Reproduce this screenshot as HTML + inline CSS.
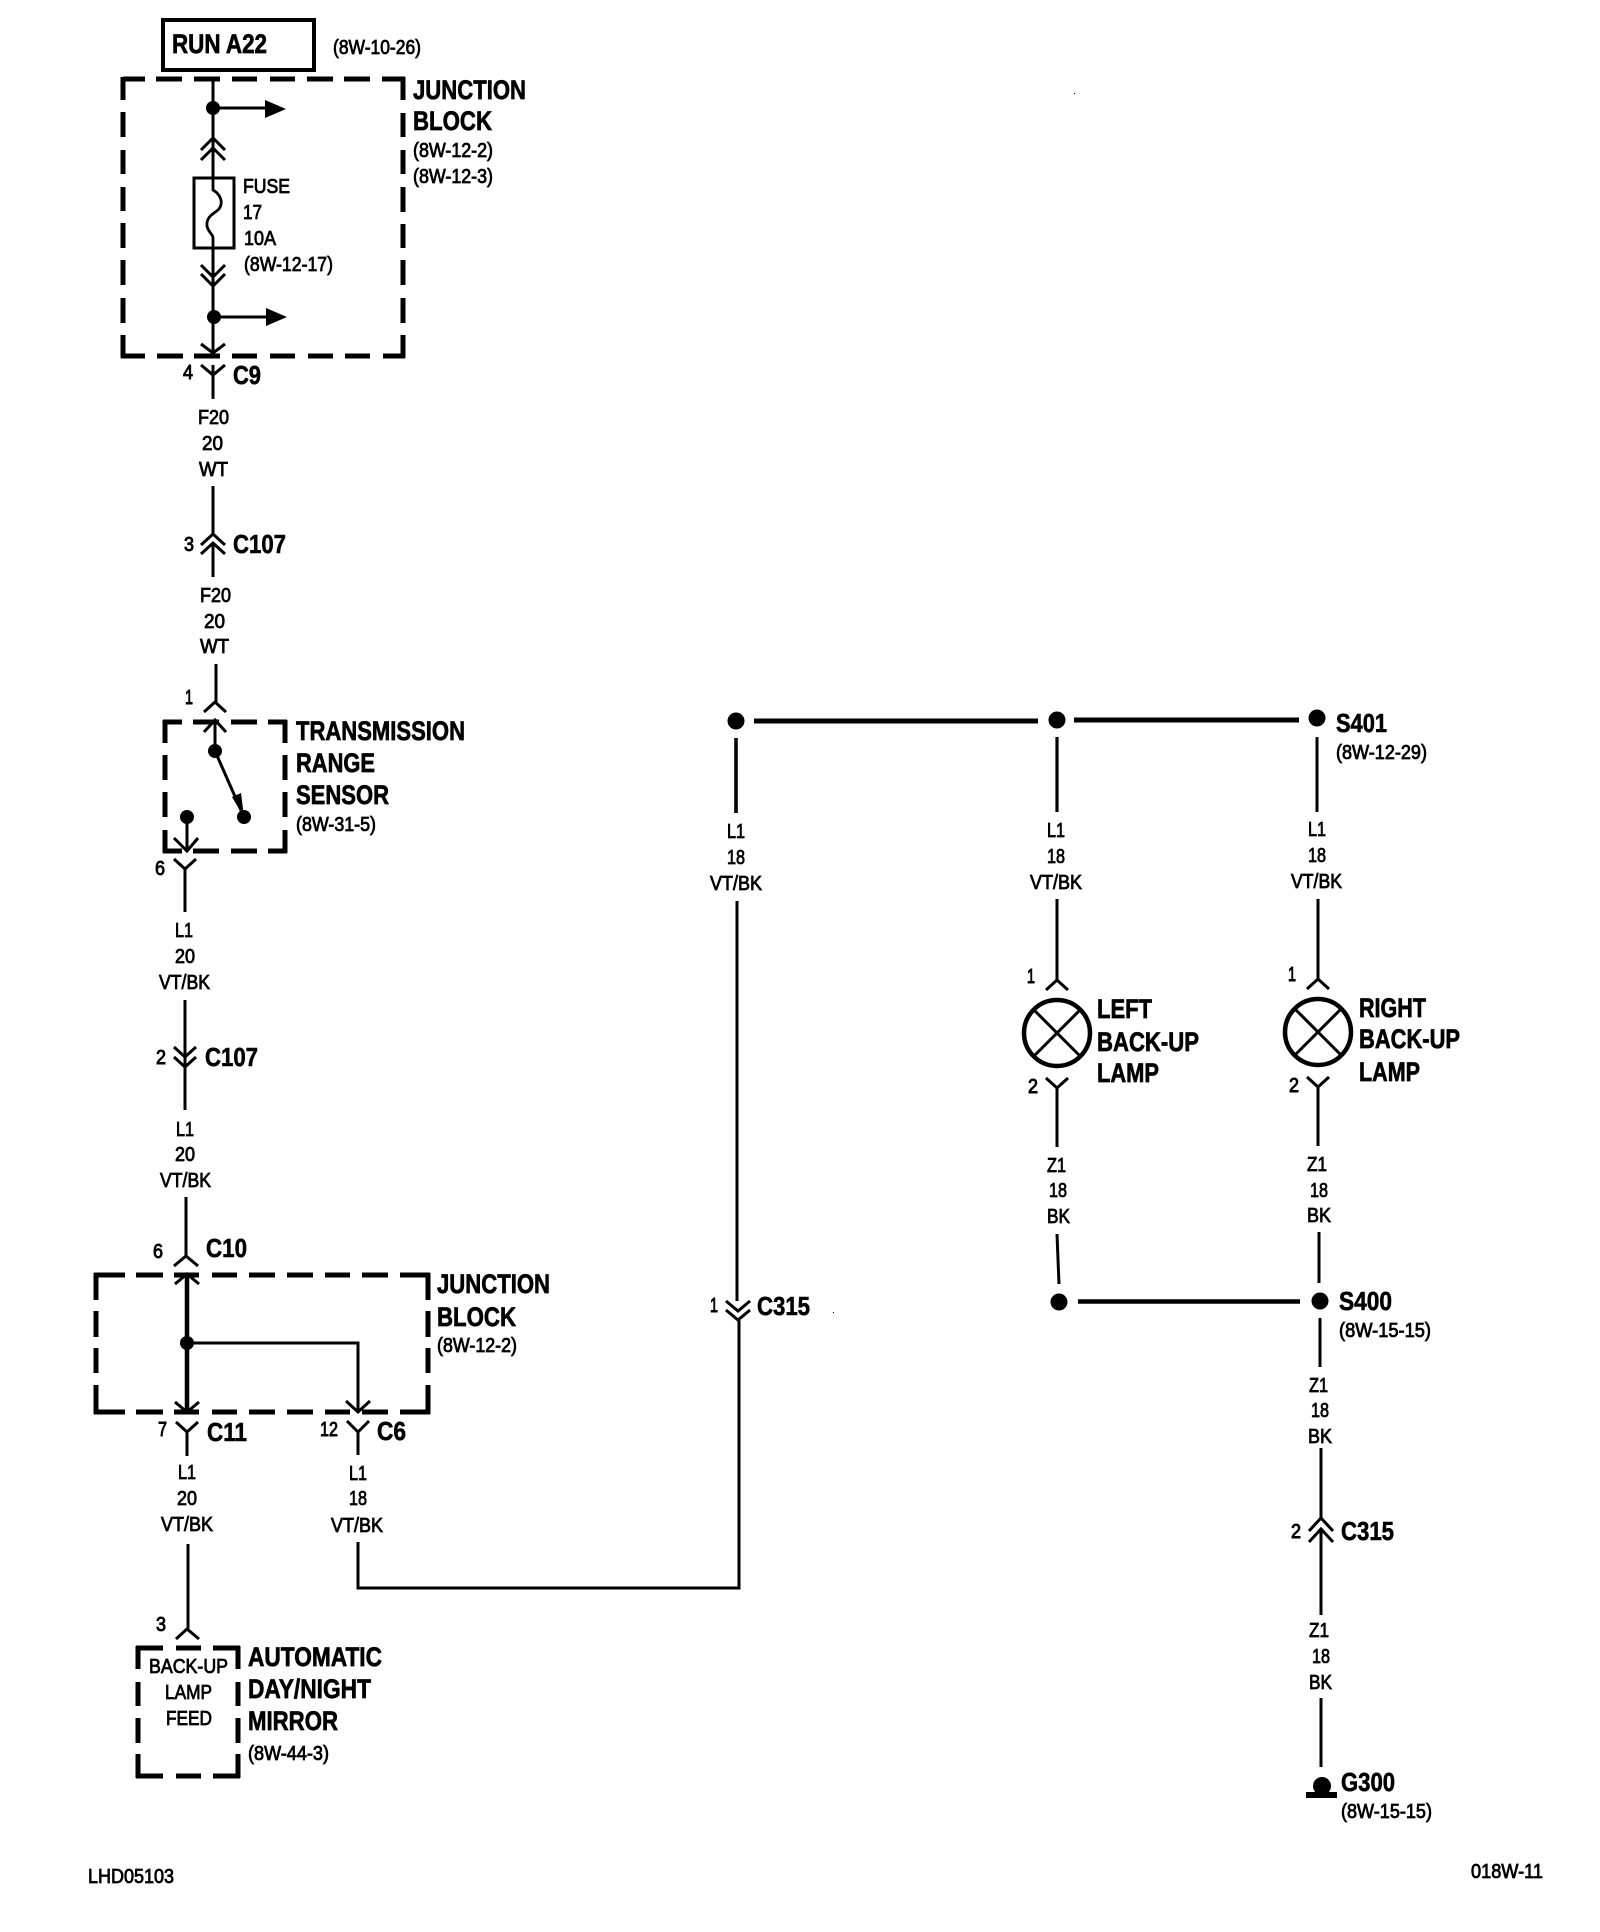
<!DOCTYPE html>
<html>
<head>
<meta charset="utf-8">
<title>Back-up lamp wiring diagram</title>
<style>
html,body{margin:0;padding:0;background:#fff}
svg{display:block}
text{font-family:"Liberation Sans",sans-serif;fill:#000;stroke:#000}
.h{font-weight:bold;font-size:27px;stroke-width:.7px}
.c{font-weight:bold;font-size:26px;stroke-width:.6px}
.s{font-size:20px;stroke-width:.8px}
.p{font-size:20px;stroke-width:.9px}
</style>
</head>
<body>
<svg width="1600" height="1932" viewBox="0 0 1600 1932" xmlns="http://www.w3.org/2000/svg">
<rect width="1600" height="1932" fill="#fff" stroke="none"/>

<!-- RUN box -->
<rect x="163" y="20" width="151" height="50" fill="none" stroke="#000" stroke-width="4"/>

<!-- Dashed boxes -->
<g fill="none" stroke="#000" stroke-width="5">
<path d="M123 79H145M156 79H182M194 79H220M232 79H257M270 79H295M307 79H333M344 79H370M382 79H405
M123 77V100M123 112V137M123 150V174M123 187V211M123 223V248M123 260V285M123 298V323M123 335V358
M403 77V100M403 113V137M403 150V174M403 187V212M403 224V248M403 260V285M403 298V323M403 335V358
M121 356H145M157 356H183M194 356H220M232 356H257M270 356H295M308 356H333M345 356H370M383 356H405"/>
<path d="M163 722H182M193 722H219M231 722H257M268 722H287
M165 720V743M165 755V780M165 792V817M165 830V853
M285 720V743M285 755V780M285 792V817M285 830V853
M163 851H182M193 851H219M231 851H257M268 851H287"/>
<path d="M94 1275H125M136 1275H163M174 1275H199M212 1275H237M249 1275H275M287 1275H313M325 1275H350M362 1275H388M400 1275H430
M96 1273V1300M96 1311V1337M96 1348V1373M96 1385V1414
M428 1273V1300M428 1311V1337M428 1348V1373M428 1385V1414
M94 1412H125M136 1412H163M174 1412H199M212 1412H237M249 1412H275M287 1412H313M325 1412H350M362 1412H388M400 1412H430"/>
<path d="M136 1648H163M176 1648H201M213 1648H240
M138 1646V1669M138 1682V1706M138 1718V1743M138 1754V1778
M238 1646V1669M238 1682V1706M238 1718V1743M238 1754V1778
M136 1776H163M176 1776H201M213 1776H240"/>
</g>

<!-- Wires -->
<g fill="none" stroke="#000" stroke-width="3">
<path d="M213 79V178M213 248V353"/>
<path d="M213 108H266M214 317H267"/>
<path d="M213 365V399M213 486V534M213 543V577M216 664V702"/>
<path d="M215 719V751"/>
<path d="M187 817V850M185 869V912"/>
<path d="M185 1000V1067V1110M186 1197V1256"/>
<path d="M187 1432V1456M188 1544V1629"/>
<path d="M358 1432V1455"/>
<path d="M187 1343H358V1412"/>
<path d="M358 1542V1588H739V1320"/>
<path d="M737 901V1301"/>
<path d="M1057 899V980M1057 1088V1147M1318 899V979M1318 1087V1146"/>
<path d="M1057 1234L1059 1284M1319 1232V1283M1320 1318V1367M1321 1448V1518M1321 1528V1615M1321 1698V1767"/>
<path d="M1057 737V812" stroke-width="3.2"/>
<path d="M736 738V813" stroke-width="3.6"/>
<path d="M1317 737V812" stroke-width="3"/>
<path d="M187 1274V1414" stroke-width="4.5"/>
<path d="M754 721H1038M1074 720H1299" stroke-width="5"/>
<path d="M1078 1301.500H1300" stroke-width="4.500"/>
<path d="M215 751L244 817" stroke-width="3"/>
</g>

<!-- Chevrons -->
<g fill="none" stroke="#000" stroke-width="3">
<path d="M201 150L213 138L225 150M201 160L213 148L225 160"/>
<path d="M201 265L213 277L225 265M201 274L213 286L225 274"/>
<path d="M201 344L213 353L225 344M201 365L213 375L225 365"/>
<path d="M201 545L213 534L225 545M201 554L213 543L225 554"/>
<path d="M204 712L215 702L226 712M204 732L215 720L226 732"/>
<path d="M174 838L187 851L198 838M174 859L185 869L196 859"/>
<path d="M174 1047L185 1057L196 1047M174 1057L185 1067L196 1057"/>
<path d="M174 1266L186 1256L198 1266M175 1284L187 1274L199 1284"/>
<path d="M175 1402L187 1412L199 1402M176 1422L187 1432L198 1422"/>
<path d="M346 1401L358 1412L370 1401M347 1421L358 1432L369 1421"/>
<path d="M176 1639L187 1629L199 1639"/>
<path d="M726 1301L738 1311L750 1301M726 1310L738 1320L750 1310"/>
<path d="M1046 990L1057 980L1068 990M1046 1078L1057 1088L1068 1078"/>
<path d="M1307 989L1318 979L1329 989M1307 1077L1318 1087L1329 1077"/>
<path d="M1309 1531L1321 1518L1333 1531M1309 1542L1321 1529L1333 1542"/>
</g>

<!-- Fuse -->
<rect x="194" y="178" width="40" height="70" fill="none" stroke="#000" stroke-width="3"/>
<path d="M213 178V190C220 194 224 202 219 209C214 214 206 216 207 226C208 232 213 234 213 238V248" fill="none" stroke="#000" stroke-width="2.800"/>

<!-- Dots and arrowheads -->
<g fill="#000" stroke="none">
<circle cx="213" cy="108" r="7"/>
<circle cx="214" cy="317" r="7"/>
<path d="M265 100L286 109L265 118Z"/>
<path d="M266 308L287 317L266 326Z"/>
<circle cx="215" cy="751" r="7"/>
<circle cx="244" cy="817" r="7"/>
<circle cx="187" cy="817" r="7"/>
<path d="M232 797L241 793L244 817Z"/>
<circle cx="187" cy="1343" r="7"/>
<circle cx="736" cy="721" r="8.500"/>
<circle cx="1057" cy="720" r="8.500"/>
<circle cx="1317" cy="718" r="8.500"/>
<circle cx="1059" cy="1302" r="8.500"/>
<circle cx="1320" cy="1301" r="8.500"/>
<circle cx="1322" cy="1786" r="9"/>
<rect x="1306" y="1792" width="31" height="6"/>
<rect x="1074" y="93" width="1" height="1"/>
<rect x="833" y="1312" width="1" height="1"/>
</g>

<!-- Lamps -->
<g fill="none" stroke="#000">
<circle cx="1057" cy="1033" r="33" stroke-width="4.500"/>
<path d="M1034 1010L1080 1056M1080 1010L1034 1056" stroke-width="3"/>
<circle cx="1318" cy="1032" r="33" stroke-width="4.500"/>
<path d="M1295 1009L1341 1055M1341 1009L1295 1055" stroke-width="3"/>
</g>

<g transform="translate(-1,-1)">
<!-- Labels: top -->
<text class="h" x="173" y="54" textLength="95" lengthAdjust="spacingAndGlyphs">RUN A22</text>
<text class="s" x="334" y="55" textLength="88" lengthAdjust="spacingAndGlyphs">(8W-10-26)</text>
<text class="h" x="414" y="100" textLength="113" lengthAdjust="spacingAndGlyphs">JUNCTION</text>
<text class="h" x="414" y="131" textLength="79" lengthAdjust="spacingAndGlyphs">BLOCK</text>
<text class="s" x="414" y="158" textLength="80" lengthAdjust="spacingAndGlyphs">(8W-12-2)</text>
<text class="s" x="414" y="184" textLength="80" lengthAdjust="spacingAndGlyphs">(8W-12-3)</text>
<text class="s" x="244" y="194" textLength="47" lengthAdjust="spacingAndGlyphs">FUSE</text>
<text class="s" x="244" y="220" textLength="19" lengthAdjust="spacingAndGlyphs">17</text>
<text class="s" x="245" y="246" textLength="32" lengthAdjust="spacingAndGlyphs">10A</text>
<text class="s" x="245" y="272" textLength="89" lengthAdjust="spacingAndGlyphs">(8W-12-17)</text>
<text class="p" x="184" y="380" textLength="10" lengthAdjust="spacingAndGlyphs">4</text>
<text class="c" x="234" y="385" textLength="28" lengthAdjust="spacingAndGlyphs">C9</text>

<text class="s" x="199" y="425" textLength="31" lengthAdjust="spacingAndGlyphs">F20</text>
<text class="s" x="203" y="451" textLength="21" lengthAdjust="spacingAndGlyphs">20</text>
<text class="s" x="200" y="477" textLength="29" lengthAdjust="spacingAndGlyphs">WT</text>
<text class="p" x="185" y="552" textLength="10" lengthAdjust="spacingAndGlyphs">3</text>
<text class="c" x="234" y="554" textLength="53" lengthAdjust="spacingAndGlyphs">C107</text>
<text class="s" x="201" y="603" textLength="31" lengthAdjust="spacingAndGlyphs">F20</text>
<text class="s" x="205" y="629" textLength="21" lengthAdjust="spacingAndGlyphs">20</text>
<text class="s" x="201" y="654" textLength="29" lengthAdjust="spacingAndGlyphs">WT</text>

<text class="p" x="186" y="705" textLength="8" lengthAdjust="spacingAndGlyphs">1</text>
<text class="h" x="297" y="741" textLength="169" lengthAdjust="spacingAndGlyphs">TRANSMISSION</text>
<text class="h" x="297" y="773" textLength="79" lengthAdjust="spacingAndGlyphs">RANGE</text>
<text class="h" x="297" y="805" textLength="93" lengthAdjust="spacingAndGlyphs">SENSOR</text>
<text class="s" x="297" y="832" textLength="80" lengthAdjust="spacingAndGlyphs">(8W-31-5)</text>
<text class="p" x="156" y="876" textLength="10" lengthAdjust="spacingAndGlyphs">6</text>

<text class="s" x="176" y="938" textLength="18" lengthAdjust="spacingAndGlyphs">L1</text>
<text class="s" x="176" y="964" textLength="20" lengthAdjust="spacingAndGlyphs">20</text>
<text class="s" x="160" y="990" textLength="51" lengthAdjust="spacingAndGlyphs">VT/BK</text>
<text class="p" x="157" y="1065" textLength="10" lengthAdjust="spacingAndGlyphs">2</text>
<text class="c" x="206" y="1067" textLength="53" lengthAdjust="spacingAndGlyphs">C107</text>

<text class="s" x="177" y="1137" textLength="18" lengthAdjust="spacingAndGlyphs">L1</text>
<text class="s" x="176" y="1162" textLength="20" lengthAdjust="spacingAndGlyphs">20</text>
<text class="s" x="161" y="1188" textLength="51" lengthAdjust="spacingAndGlyphs">VT/BK</text>
<text class="p" x="154" y="1259" textLength="10" lengthAdjust="spacingAndGlyphs">6</text>
<text class="c" x="207" y="1258" textLength="41" lengthAdjust="spacingAndGlyphs">C10</text>

<text class="h" x="438" y="1294" textLength="113" lengthAdjust="spacingAndGlyphs">JUNCTION</text>
<text class="h" x="438" y="1327" textLength="79" lengthAdjust="spacingAndGlyphs">BLOCK</text>
<text class="s" x="438" y="1353" textLength="80" lengthAdjust="spacingAndGlyphs">(8W-12-2)</text>

<text class="p" x="159" y="1437" textLength="9" lengthAdjust="spacingAndGlyphs">7</text>
<text class="c" x="208" y="1442" textLength="40" lengthAdjust="spacingAndGlyphs">C11</text>
<text class="p" x="321" y="1437" textLength="18" lengthAdjust="spacingAndGlyphs">12</text>
<text class="c" x="378" y="1441" textLength="29" lengthAdjust="spacingAndGlyphs">C6</text>

<text class="s" x="179" y="1480" textLength="18" lengthAdjust="spacingAndGlyphs">L1</text>
<text class="s" x="178" y="1506" textLength="20" lengthAdjust="spacingAndGlyphs">20</text>
<text class="s" x="162" y="1532" textLength="52" lengthAdjust="spacingAndGlyphs">VT/BK</text>
<text class="s" x="350" y="1481" textLength="18" lengthAdjust="spacingAndGlyphs">L1</text>
<text class="s" x="350" y="1506" textLength="18" lengthAdjust="spacingAndGlyphs">18</text>
<text class="s" x="332" y="1533" textLength="52" lengthAdjust="spacingAndGlyphs">VT/BK</text>

<text class="p" x="157" y="1632" textLength="10" lengthAdjust="spacingAndGlyphs">3</text>
<text class="s" x="150" y="1674" textLength="79" lengthAdjust="spacingAndGlyphs">BACK-UP</text>
<text class="s" x="166" y="1700" textLength="47" lengthAdjust="spacingAndGlyphs">LAMP</text>
<text class="s" x="167" y="1726" textLength="46" lengthAdjust="spacingAndGlyphs">FEED</text>
<text class="h" x="249" y="1667" textLength="134" lengthAdjust="spacingAndGlyphs">AUTOMATIC</text>
<text class="h" x="249" y="1699" textLength="123" lengthAdjust="spacingAndGlyphs">DAY/NIGHT</text>
<text class="h" x="249" y="1731" textLength="90" lengthAdjust="spacingAndGlyphs">MIRROR</text>
<text class="s" x="249" y="1761" textLength="81" lengthAdjust="spacingAndGlyphs">(8W-44-3)</text>
<text class="s" x="89" y="1884" textLength="86" lengthAdjust="spacingAndGlyphs">LHD05103</text>

<!-- Labels: middle -->
<text class="s" x="728" y="839" textLength="18" lengthAdjust="spacingAndGlyphs">L1</text>
<text class="s" x="728" y="865" textLength="18" lengthAdjust="spacingAndGlyphs">18</text>
<text class="s" x="711" y="891" textLength="52" lengthAdjust="spacingAndGlyphs">VT/BK</text>
<text class="p" x="711" y="1313" textLength="8" lengthAdjust="spacingAndGlyphs">1</text>
<text class="c" x="758" y="1316" textLength="53" lengthAdjust="spacingAndGlyphs">C315</text>

<text class="s" x="1048" y="838" textLength="18" lengthAdjust="spacingAndGlyphs">L1</text>
<text class="s" x="1048" y="864" textLength="18" lengthAdjust="spacingAndGlyphs">18</text>
<text class="s" x="1031" y="890" textLength="52" lengthAdjust="spacingAndGlyphs">VT/BK</text>
<text class="p" x="1028" y="984" textLength="8" lengthAdjust="spacingAndGlyphs">1</text>
<text class="h" x="1098" y="1019" textLength="55" lengthAdjust="spacingAndGlyphs">LEFT</text>
<text class="h" x="1098" y="1052" textLength="102" lengthAdjust="spacingAndGlyphs">BACK-UP</text>
<text class="h" x="1098" y="1083" textLength="62" lengthAdjust="spacingAndGlyphs">LAMP</text>
<text class="p" x="1029" y="1094" textLength="10" lengthAdjust="spacingAndGlyphs">2</text>
<text class="s" x="1048" y="1173" textLength="19" lengthAdjust="spacingAndGlyphs">Z1</text>
<text class="s" x="1050" y="1198" textLength="18" lengthAdjust="spacingAndGlyphs">18</text>
<text class="s" x="1048" y="1224" textLength="23" lengthAdjust="spacingAndGlyphs">BK</text>

<!-- Labels: right -->
<text class="c" x="1337" y="733" textLength="51" lengthAdjust="spacingAndGlyphs">S401</text>
<text class="s" x="1337" y="760" textLength="91" lengthAdjust="spacingAndGlyphs">(8W-12-29)</text>
<text class="s" x="1309" y="837" textLength="18" lengthAdjust="spacingAndGlyphs">L1</text>
<text class="s" x="1309" y="863" textLength="18" lengthAdjust="spacingAndGlyphs">18</text>
<text class="s" x="1292" y="889" textLength="51" lengthAdjust="spacingAndGlyphs">VT/BK</text>
<text class="p" x="1289" y="982" textLength="8" lengthAdjust="spacingAndGlyphs">1</text>
<text class="h" x="1360" y="1018" textLength="67" lengthAdjust="spacingAndGlyphs">RIGHT</text>
<text class="h" x="1360" y="1049" textLength="101" lengthAdjust="spacingAndGlyphs">BACK-UP</text>
<text class="h" x="1360" y="1082" textLength="61" lengthAdjust="spacingAndGlyphs">LAMP</text>
<text class="p" x="1290" y="1093" textLength="10" lengthAdjust="spacingAndGlyphs">2</text>
<text class="s" x="1308" y="1172" textLength="20" lengthAdjust="spacingAndGlyphs">Z1</text>
<text class="s" x="1311" y="1198" textLength="18" lengthAdjust="spacingAndGlyphs">18</text>
<text class="s" x="1308" y="1223" textLength="24" lengthAdjust="spacingAndGlyphs">BK</text>
<text class="c" x="1340" y="1311" textLength="53" lengthAdjust="spacingAndGlyphs">S400</text>
<text class="s" x="1340" y="1338" textLength="92" lengthAdjust="spacingAndGlyphs">(8W-15-15)</text>
<text class="s" x="1310" y="1393" textLength="19" lengthAdjust="spacingAndGlyphs">Z1</text>
<text class="s" x="1312" y="1418" textLength="18" lengthAdjust="spacingAndGlyphs">18</text>
<text class="s" x="1309" y="1444" textLength="24" lengthAdjust="spacingAndGlyphs">BK</text>
<text class="p" x="1292" y="1539" textLength="10" lengthAdjust="spacingAndGlyphs">2</text>
<text class="c" x="1342" y="1541" textLength="53" lengthAdjust="spacingAndGlyphs">C315</text>
<text class="s" x="1310" y="1638" textLength="20" lengthAdjust="spacingAndGlyphs">Z1</text>
<text class="s" x="1313" y="1664" textLength="18" lengthAdjust="spacingAndGlyphs">18</text>
<text class="s" x="1310" y="1690" textLength="23" lengthAdjust="spacingAndGlyphs">BK</text>
<text class="c" x="1342" y="1792" textLength="54" lengthAdjust="spacingAndGlyphs">G300</text>
<text class="s" x="1342" y="1819" textLength="91" lengthAdjust="spacingAndGlyphs">(8W-15-15)</text>
<text class="s" x="1472" y="1879" textLength="72" lengthAdjust="spacingAndGlyphs">018W-11</text>
</g>
</svg>
</body>
</html>
